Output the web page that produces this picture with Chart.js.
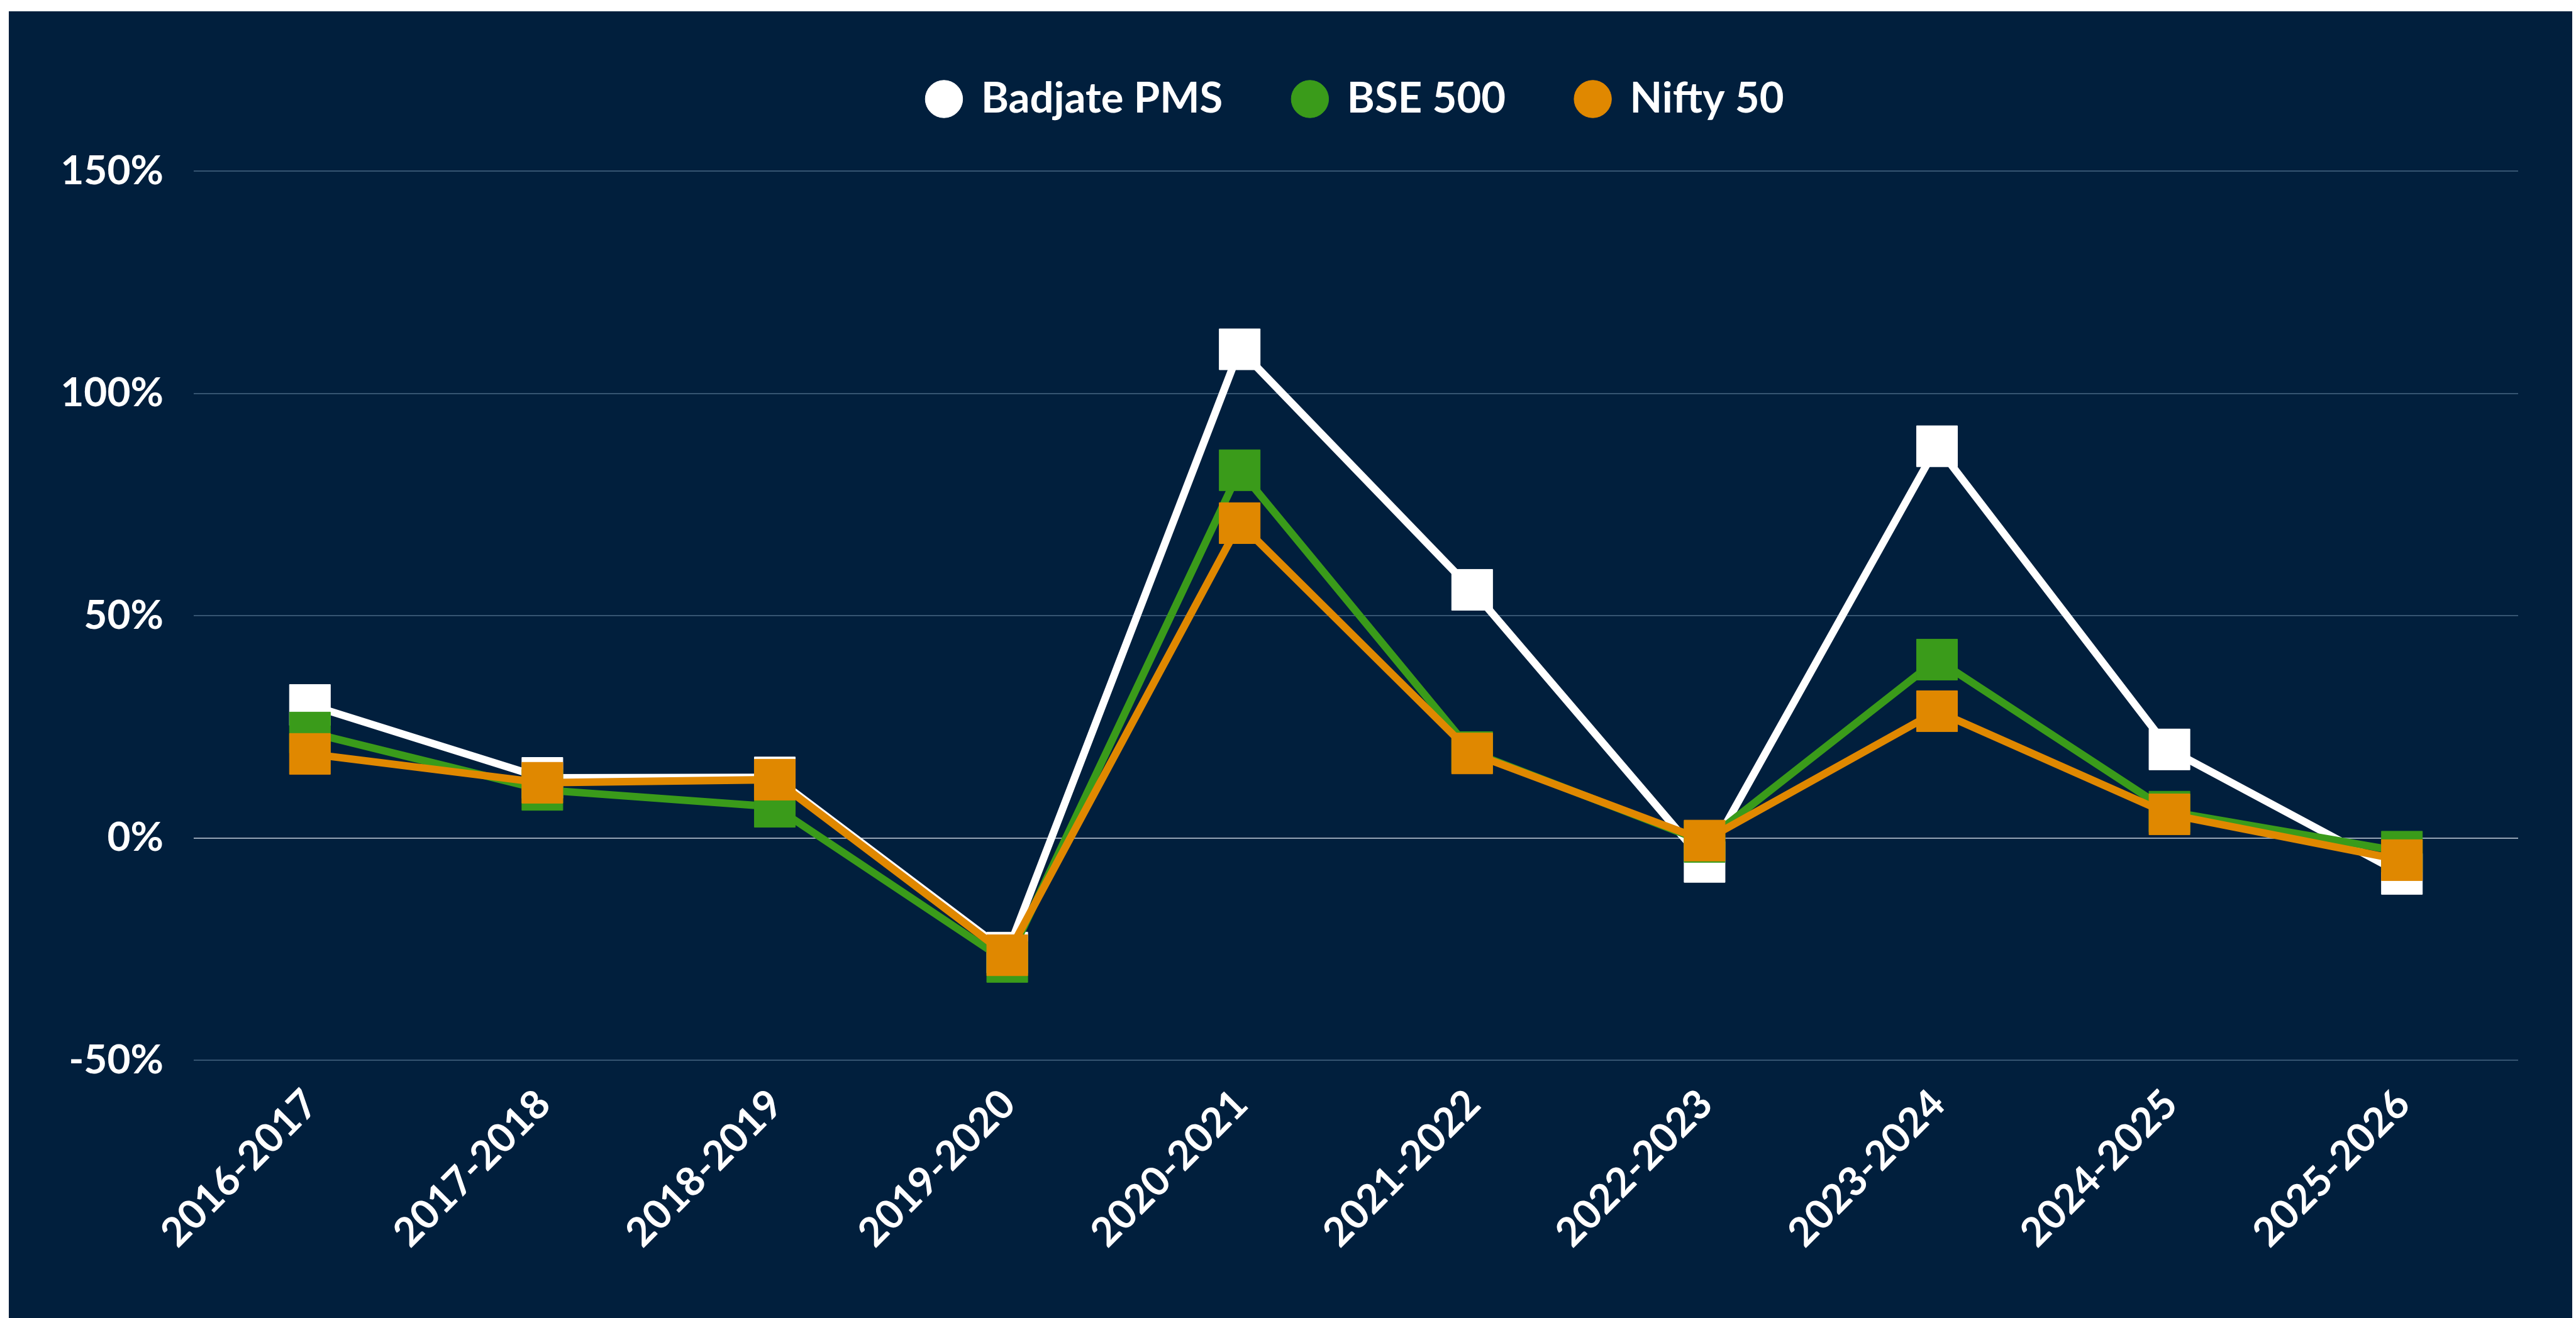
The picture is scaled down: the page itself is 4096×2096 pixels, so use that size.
<!DOCTYPE html>
<html>
<head>
<meta charset="utf-8">
<script src="https://cdn.jsdelivr.net/npm/chart.js@4/dist/chart.umd.min.js"></script>
<style>
  html, body { margin: 0; padding: 0; background: #fff; overflow: hidden; }
  /* navy panel, thin white strip left / top / right like the original export */
  #bg { position: absolute; left: 14px; top: 18px; right: 6px; bottom: 0; background: #011f3d; }
  #wrap { position: absolute; left: 0; top: 0; width: 4096px; height: 2096px; }
</style>
</head>
<body>
<div id="bg"></div>
<div id="wrap"><canvas id="chart"></canvas></div>
<script>
// * =============== データ =============== *
const years = ["2016-2017", "2017-2018", "2018-2019", "2019-2020", "2020-2021",
               "2021-2022", "2022-2023", "2023-2024", "2024-2025", "2025-2026"];
const badjatePms = [29.9, 13.5, 13.6, -25.8, 109.9, 55.8, -5.4, 88.1, 19.9, -8.1];
const bse500     = [23.7, 10.8, 7.0, -27.9, 82.7, 19.3, -0.9, 40.1, 5.9, -3.1];
const nifty50    = [18.9, 12.4, 13.1, -26.4, 70.8, 19.0, -0.6, 28.5, 5.3, -5.0];
const yTicks = [-50, 0, 50, 100, 150];

const WHITE = '#ffffff';
const GREEN = '#3a9b1a';
const ORANGE = '#e08800';
const FONT = 'Lato';

// 凡例の下に余白を足す
const legendGap = {
    id: 'legendGap',
    afterInit(chart) {
        const fit = chart.legend.fit;
        chart.legend.fit = function () {
            fit.call(this);
            this.height += 71;
        };
    }
};

function series(label, data, color, order) {
    return {
        label: label,
        data: data,
        borderColor: color,
        backgroundColor: color,
        borderWidth: 12,
        lineTension: 0,
        pointStyle: 'rect',
        pointRadius: 46,
        pointHoverRadius: 46,
        pointBorderWidth: 1,
        pointBackgroundColor: color,
        pointBorderColor: color,
        order: order, // 小さいほど手前
        fill: false
    };
}

new Chart(document.getElementById('chart').getContext('2d'), {
    type: 'line',
    data: {
        labels: years,
        datasets: [
            series('Badjate PMS', badjatePms, WHITE, 2),
            series('BSE 500', bse500, GREEN, 1),
            series('Nifty 50', nifty50, ORANGE, 0)
        ]
    },
    plugins: [legendGap],
    options: {
        responsive: true,
        maintainAspectRatio: false,
        animation: false,
        layout: {
            padding: { top: 11, left: 0, right: 92, bottom: 0 }
        },
        plugins: {
            legend: {
                position: 'top',
                fullSize: false,
                labels: {
                    usePointStyle: true,
                    pointStyle: 'circle',
                    boxWidth: 51,
                    boxHeight: 42,
                    padding: 113,
                    color: WHITE,
                    font: { family: FONT, size: 67, weight: 'bold' },
                    sort: (a, b) => a.datasetIndex - b.datasetIndex
                }
            },
            tooltip: { enabled: false }
        },
        scales: {
            x: {
                offset: true,
                grid: { display: false, drawTicks: false },
                border: { display: false },
                afterFit(scale) { scale.height = 410; },
                ticks: {
                    autoSkip: false,
                    minRotation: 45,
                    maxRotation: 45,
                    padding: 32,
                    labelOffset: 2,
                    color: WHITE,
                    font: { family: FONT, size: 64, weight: 'bold' }
                }
            },
            y: {
                min: yTicks[0],
                max: yTicks[yTicks.length - 1],
                afterFit(scale) { scale.width = 308; },
                afterBuildTicks(scale) { scale.ticks = yTicks.map(v => ({ value: v })); },
                grid: {
                    drawTicks: false,
                    lineWidth: 2,
                    color: ctx => ctx.tick && ctx.tick.value === 0 ? 'rgba(200,210,222,0.75)' : 'rgba(120,150,180,0.45)'
                },
                border: { display: false },
                ticks: {
                    padding: 48,
                    color: WHITE,
                    font: { family: FONT, size: 64, weight: 'bold' },
                    callback: v => v + '%'
                }
            }
        }
    }
});
</script>
</body>
</html>
